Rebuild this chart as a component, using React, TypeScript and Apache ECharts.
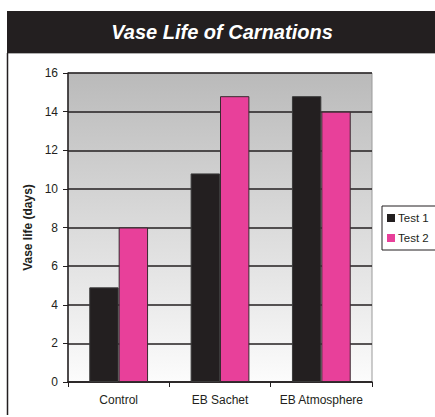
import React, { useEffect, useRef } from "react";
import * as echarts from "echarts";

const categories = ["Control", "EB Sachet", "EB Atmosphere"];
const test1 = [4.9, 10.8, 14.8];
const test2 = [8.0, 14.8, 14.0];
const seriesNames = ["Test 1", "Test 2"];
const chartTitle = "Vase Life of Carnations";
const yAxisTitle = "Vase life (days)";

const FONT = "'Liberation Sans', Arial, sans-serif";

export default function App() {
  const ref = useRef<HTMLDivElement>(null);
  useEffect(() => {
    if (!ref.current) return;
    const chart = echarts.init(ref.current, undefined, { renderer: "svg" });
    chart.setOption({
      animation: false,
      textStyle: { fontFamily: FONT },
      graphic: [
        {
          type: "rect",
          shape: { x: 7, y: 11, width: 428, height: 42 },
          style: { fill: "#231f20" },
          z: 1,
        },
        {
          type: "line",
          shape: { x1: 7, y1: 53.5, x2: 435, y2: 53.5 },
          style: { stroke: "#b0b0b0", lineWidth: 1 },
        },
        {
          type: "line",
          shape: { x1: 7.5, y1: 53, x2: 7.5, y2: 415 },
          style: { stroke: "#231f20", lineWidth: 1.5 },
        },
        {
          type: "text",
          x: 222,
          y: 32,
          z: 5,
          style: {
            text: chartTitle,
            fill: "#ffffff",
            font: `italic bold 20px ${FONT}`,
            textAlign: "center",
            textVerticalAlign: "middle",
          },
        },
      ],
      legend: {
        orient: "vertical",
        left: 382,
        top: 206,
        data: seriesNames,
        icon: "rect",
        itemWidth: 8,
        itemHeight: 8,
        itemGap: 8,
        itemStyle: { borderWidth: 0 },
        borderColor: "#231f20",
        borderWidth: 1,
        padding: [6, 10, 6, 5],
        textStyle: { fontSize: 11.5, color: "#231f20", fontFamily: FONT, padding: [0, 0, 0, -2] },
      },
      grid: {
        left: 68,
        top: 73,
        width: 304,
        height: 309,
        show: true,
        borderColor: "#9a9a9a",
        borderWidth: 1,
        backgroundColor: {
          type: "linear",
          x: 0,
          y: 0,
          x2: 0,
          y2: 1,
          colorStops: [
            { offset: 0, color: "#bababa" },
            { offset: 1, color: "#fcfcfc" },
          ],
        },
      },
      xAxis: {
        type: "category",
        data: categories,
        axisLine: { show: true, lineStyle: { color: "#231f20", width: 1.5 } },
        axisTick: { show: true, interval: 0, length: 5, lineStyle: { color: "#231f20" } },
        axisLabel: { interval: 0, fontSize: 12, color: "#231f20", margin: 12, fontFamily: FONT },
      },
      yAxis: {
        type: "value",
        min: 0,
        max: 16,
        interval: 2,
        name: yAxisTitle,
        nameLocation: "middle",
        nameGap: 34,
        nameRotate: 90,
        nameTextStyle: { fontSize: 12, fontWeight: "bold", color: "#231f20", fontFamily: FONT },
        axisLine: { show: true, lineStyle: { color: "#231f20", width: 1.5 } },
        axisTick: { show: true, length: 5, lineStyle: { color: "#231f20" } },
        axisLabel: { fontSize: 12, color: "#231f20", margin: 10, fontFamily: FONT },
        splitLine: { show: true, lineStyle: { color: "#231f20", width: 1.5 } },
      },
      series: [
        {
          name: seriesNames[0],
          type: "bar",
          data: test1,
          barGap: "0%",
          barCategoryGap: "42%",
          itemStyle: { color: "#231f20", borderColor: "#3a3a3a", borderWidth: 1 },
        },
        {
          name: seriesNames[1],
          type: "bar",
          data: test2,
          itemStyle: { color: "#e8409a", borderColor: "#3a2a30", borderWidth: 1 },
        },
      ],
    });
    return () => chart.dispose();
  }, []);
  return (
    <div
      ref={ref}
      style={{ position: "absolute", left: 0, top: 0, width: 435, height: 417, background: "#ffffff" }}
    />
  );
}
